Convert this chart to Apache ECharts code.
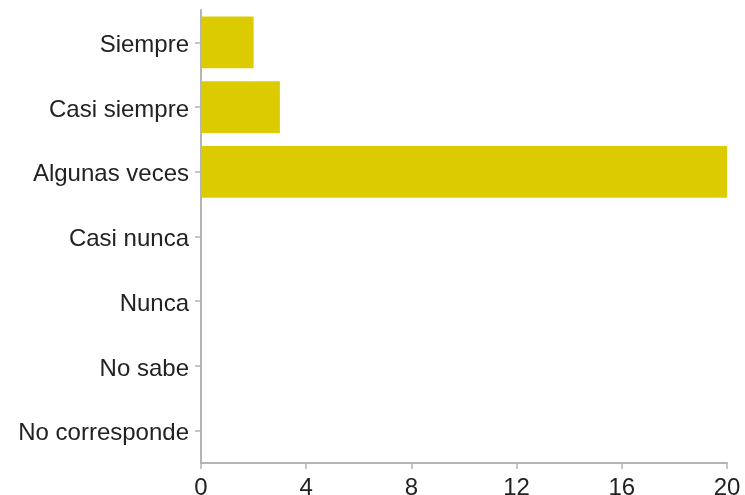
<!DOCTYPE html>
<html>
<head>
<meta charset="utf-8">
<script src="https://cdn.jsdelivr.net/npm/echarts@6/dist/echarts.min.js"></script>
<style>
  html, body { margin: 0; padding: 0; background: #fff; }
  #chart { width: 745px; height: 495px; }
</style>
</head>
<body>
<div id="chart"></div>
<script>
// Response categories, top to bottom
const categories = ['Siempre', 'Casi siempre', 'Algunas veces', 'Casi nunca', 'Nunca', 'No sabe', 'No corresponde'];
// Number of answers per category
const counts = [2, 3, 20, 0, 0, 0, 0];
// Value axis ticks
const xMin = 0;
const xMax = 20;
const xStep = 4;

const axisGrey = '#b4b4b4';
const textColor = '#222';
const fontFamily = '"Liberation Sans", Arial, Helvetica, sans-serif';

const chart = echarts.init(document.getElementById('chart'), null, { renderer: 'canvas' });
chart.setOption({
  animation: false,
  backgroundColor: '#fff',
  grid: { left: 201, right: 18, top: 10, bottom: 32, containLabel: false, outerBoundsMode: 'none' },
  xAxis: {
    type: 'value',
    min: xMin,
    max: xMax,
    interval: xStep,
    axisLine: { show: true, lineStyle: { color: axisGrey, width: 2 } },
    axisTick: { show: true, length: 6, lineStyle: { color: axisGrey, width: 1.5 } },
    splitLine: { show: false },
    axisLabel: { color: textColor, fontSize: 24, fontFamily: fontFamily, margin: 13 }
  },
  yAxis: {
    type: 'category',
    data: categories,
    inverse: true,
    axisLine: { show: true, lineStyle: { color: axisGrey, width: 2 } },
    axisTick: { show: true, length: 6, alignWithLabel: true, lineStyle: { color: axisGrey, width: 1.5 } },
    axisLabel: { color: textColor, fontSize: 24, fontFamily: fontFamily, margin: 12, verticalAlign: 'top', lineHeight: 6 }
  },
  series: [{
    type: 'bar',
    data: counts,
    barCategoryGap: '20%',
    itemStyle: { color: '#dccb00' }
  }]
});
</script>
</body>
</html>
